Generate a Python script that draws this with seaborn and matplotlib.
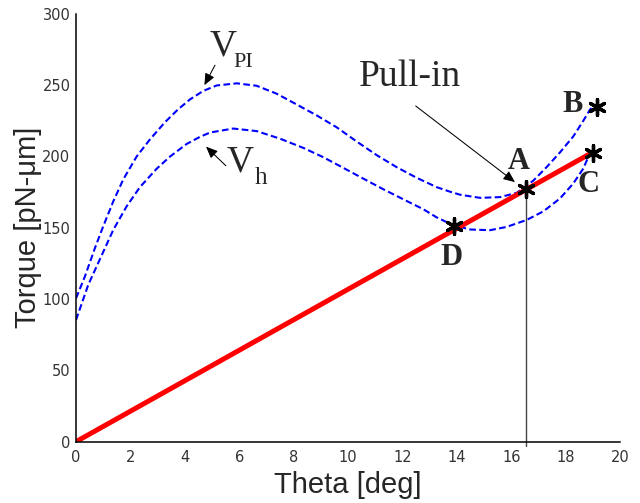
import matplotlib
matplotlib.use("Agg")
import matplotlib.pyplot as plt
import seaborn as sns

# ---------------- data ----------------
vpi_x = [0.0, 0.33, 0.70, 1.0, 1.37, 1.74, 2.23, 2.72, 3.27, 3.75, 4.19, 4.68, 5.17,
         5.91, 6.64, 7.38, 8.11, 8.85, 9.58, 10.32, 11.05, 11.79, 12.53, 13.26,
         13.75, 14.12, 14.85, 15.59, 16.2, 16.81, 17.3, 17.8, 18.28, 18.65, 18.9, 19.1]
vpi_y = [100.5, 116.0, 136.0, 151.0, 168.5, 184.0, 200.0, 212.0, 224.0, 233.0, 240.0,
         246.0, 249.8, 251.3, 249.6, 244.0, 236.5, 228.8, 220.5, 210.5, 201.0, 192.5,
         185.0, 178.5, 175.3, 173.2, 171.0, 171.5, 174.5, 183.0, 192.5, 203.0, 214.0,
         225.0, 233.0, 236.0]

vh_x = [0.0, 0.45, 0.88, 1.37, 1.86, 2.35, 2.97, 3.46, 4.07, 4.56, 4.93, 5.78, 6.64,
        7.5, 8.36, 9.09, 9.83, 10.56, 11.3, 12.03, 12.77, 13.26, 13.87, 14.49, 15.22,
        15.83, 16.57, 17.18, 17.79, 18.28, 18.65, 18.83, 19.0]
vh_y = [85.3, 110.0, 128.0, 148.5, 165.0, 178.5, 191.5, 200.0, 208.8, 213.8, 216.8,
        219.6, 217.8, 212.5, 206.0, 199.5, 192.0, 184.5, 177.0, 170.0, 163.0, 157.3,
        151.8, 148.8, 148.3, 150.6, 155.5, 161.5, 170.5, 181.0, 191.5, 199.5, 203.0]

torque_x = [0.0, 19.0]
torque_y = [0.0, 203.0]

pt_names = ["A", "B", "C", "D"]
pt_x = [16.55, 19.15, 19.0, 13.9]
pt_y = [177.5, 234.5, 202.5, 151.5]

pullin_x = 16.55
xticks = [0, 2, 4, 6, 8, 10, 12, 14, 16, 18, 20]
yticks = [0, 50, 100, 150, 200, 250, 300]

# ---------------- figure ----------------
sns.set_style("white")
plt.rcParams['font.family'] = ['DejaVu Sans']

fig = plt.figure(figsize=(6.4, 5.03), dpi=100)
ax = fig.add_axes([0.11875, 0.1219, 0.85, 0.8505])

dash = (0, (3.2, 1.6))
sns.lineplot(x=vpi_x, y=vpi_y, ax=ax, color="#0000FF", linewidth=1.5,
             linestyle=dash, sort=False, estimator=None)
sns.lineplot(x=vh_x, y=vh_y, ax=ax, color="#0000FF", linewidth=1.5,
             linestyle=dash, sort=False, estimator=None)
sns.lineplot(x=torque_x, y=torque_y, ax=ax, color="#FF0000", linewidth=3.6,
             sort=False, estimator=None, solid_capstyle="round")

# vertical pull-in line
ax.plot([pullin_x, pullin_x], [-3, pt_y[0]], color="#444444", lw=1.0,
        clip_on=False, zorder=1)

sns.scatterplot(x=pt_x, y=pt_y, ax=ax, marker=(6, 2, 0), s=130,
                color="black", linewidth=2.4, zorder=5)

serif = ['Liberation Serif', 'DejaVu Serif']
arrow_kw = dict(arrowstyle="-|>,head_length=0.7,head_width=0.3",
                color="black", lw=0.75, shrinkA=0, shrinkB=0)

# point labels
lab_pos = {"A": (16.29, 196.8), "B": (18.24, 236.8), "C": (18.86, 180.7), "D": (13.8, 129.5)}
for n in pt_names:
    x, y = lab_pos[n]
    ax.text(x, y, n, family=serif, fontweight="bold", fontsize=22,
            ha="center", va="center")

# Pull-in annotation
ax.text(12.28, 255.7, "Pull-in", family=serif, fontsize=27, ha="center", va="center")
ax.annotate("", xy=(16.14, 182), xytext=(12.49, 235.4), arrowprops=arrow_kw)

# V_PI
ax.text(5.40, 277, "V", family=serif, fontsize=27, ha="center", va="center")
ax.text(6.14, 266, "PI", family=serif, fontsize=16, ha="center", va="center")
ax.annotate("", xy=(4.72, 250), xytext=(5.11, 264), arrowprops=arrow_kw)
# V_h
ax.text(6.03, 195.8, "V", family=serif, fontsize=27, ha="center", va="center")
ax.text(6.80, 184.6, "h", family=serif, fontsize=18, ha="center", va="center")
ax.annotate("", xy=(4.78, 206.9), xytext=(5.51, 193.5), arrowprops=arrow_kw)

# axes styling
ax.set_xlim(0, 20)
ax.set_ylim(0, 300)
ax.set_xticks(xticks)
ax.set_yticks(yticks)
ax.set_xticklabels([str(t) for t in xticks])
ax.set_yticklabels([str(t) for t in yticks])
sns.despine(ax=ax)
for s in ["left", "bottom"]:
    ax.spines[s].set_color("black")
    ax.spines[s].set_linewidth(1.1)
ax.tick_params(axis="both", direction="in", length=4.5, width=0.9,
               colors="black", labelcolor="#333333", labelsize=10.5)
ax.tick_params(axis="x", pad=6)
ax.tick_params(axis="y", pad=4)
ax.grid(False)

sansA = ['Liberation Sans', 'DejaVu Sans']
ax.set_xlabel("Theta [deg]", family=sansA, fontsize=21, labelpad=4)
ax.set_ylabel("Torque [pN-\u03bcm]", family=sansA, fontsize=21, labelpad=0)

fig.savefig("out.png", dpi=100)
